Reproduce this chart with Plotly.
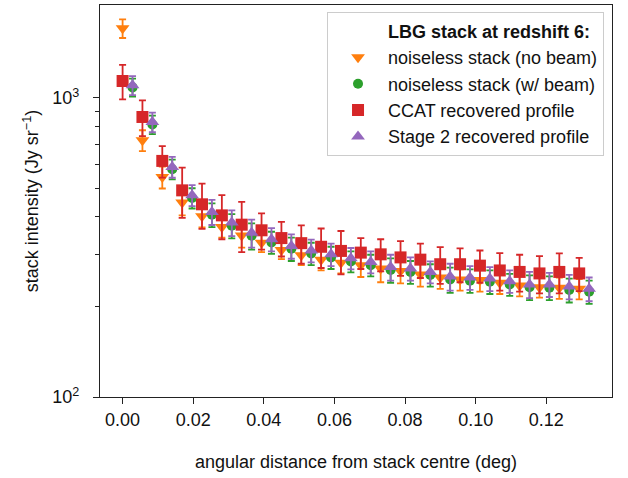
import plotly.graph_objects as go

# Radial bin centres (deg)
radius = [0.0, 0.00562, 0.01124, 0.01687, 0.02249, 0.02811, 0.03373, 0.03935,
          0.04498, 0.05060, 0.05622, 0.06184, 0.06746, 0.07309, 0.07871, 0.08433,
          0.08995, 0.09557, 0.10120, 0.10682, 0.11244, 0.11806, 0.12368, 0.12931]

# Stack profiles (Jy/sr) and 1-sigma errors
noiseless_nobeam = [1710, 722, 544, 447, 402, 370, 347, 328, 310, 298, 288, 281,
                    276, 269, 264, 257, 251, 247, 246, 241, 236, 233, 232, 230]
noiseless_nobeam_err = [123, 58, 46, 42, 33, 29, 31, 23, 21, 22, 23, 22,
                        24, 27, 24, 23, 21, 20, 21, 20, 19, 18, 19, 18]

noiseless_beam = [1085, 815, 578, 463, 407, 374, 346, 329, 313, 302, 293, 284,
                  276, 266, 262, 256, 247, 245, 243, 238, 233, 232, 228, 225]
noiseless_beam_err = [75, 58, 44, 36, 37, 35, 35, 28, 28, 26, 25, 23,
                      23, 25, 23, 22, 24, 22, 22, 20, 22, 21, 21, 20]

ccat = [1140, 864, 616, 491, 441, 405, 377, 361, 340, 327, 318, 308,
        304, 300, 293, 288, 278, 278, 275, 265, 262, 259, 262, 259]
ccat_err = [150, 118, 74, 94, 76, 68, 72, 50, 45, 48, 48, 51,
            36, 37, 39, 38, 39, 36, 34, 38, 37, 37, 40, 33]

stage2 = [1103, 831, 588, 473, 416, 383, 354, 337, 320, 309, 300, 291,
          283, 272, 269, 262, 253, 251, 249, 244, 238, 238, 234, 230]
stage2_err = [80, 63, 47, 38, 40, 38, 38, 30, 30, 27, 26, 24,
              24, 27, 24, 22, 26, 23, 23, 21, 24, 22, 22, 21]

legend_title = "LBG stack at redshift 6:"
labels = ["noiseless stack (no beam)", "noiseless stack (w/ beam)",
          "CCAT recovered profile", "Stage 2 recovered profile"]

# half-bin dodge for the beam-convolved series
dodge = 0.5 * (radius[1] - radius[0])
radius_dodged = [r + dodge for r in radius]

FONT = "Liberation Sans, Arial, Helvetica, sans-serif"
FS = 18

fig = go.Figure()

# invisible entry carrying the legend heading
fig.add_trace(go.Scatter(x=[None], y=[None], mode="markers",
                         marker=dict(size=1, color="rgba(0,0,0,0)"),
                         name="<b>" + legend_title + "</b>"))

series = [
    (radius, noiseless_nobeam, noiseless_nobeam_err, "#ff7f0e", "triangle-down", 12),
    (radius_dodged, noiseless_beam, noiseless_beam_err, "#2ca02c", "circle", 10),
    (radius, ccat, ccat_err, "#d62728", "square", 12),
    (radius_dodged, stage2, stage2_err, "#9467bd", "triangle-up", 12),
]
for (xs, ys, es, col, sym, sz), lab in zip(series, labels):
    fig.add_trace(go.Scatter(
        x=xs, y=ys, mode="markers", name=lab,
        marker=dict(symbol=sym, size=sz, color=col, line=dict(width=0)),
        error_y=dict(type="data", array=es, visible=True, color=col,
                     thickness=1.8, width=3.5),
    ))

axis_common = dict(
    showline=True, linecolor="#222222", linewidth=1.3, mirror=True,
    ticks="outside", ticklen=6, tickwidth=1.2, tickcolor="#222222",
    showgrid=False, zeroline=False,
    tickfont=dict(family=FONT, size=FS, color="#111111"),
)

fig.update_layout(
    width=628, height=478,
    margin=dict(l=100, r=16, t=5, b=81),
    paper_bgcolor="white", plot_bgcolor="white",
    font=dict(family=FONT, size=FS, color="#111111"),
    showlegend=True,
    legend=dict(
        x=0.4434, y=0.983, xanchor="left", yanchor="top",
        bgcolor="rgba(255,255,255,0.85)", bordercolor="#cccccc", borderwidth=1,
        font=dict(family=FONT, size=FS, color="#111111"),
        itemwidth=50,
    ),
    xaxis=dict(
        range=[-0.0064, 0.1386],
        tickvals=[0.0, 0.02, 0.04, 0.06, 0.08, 0.10, 0.12],
        ticktext=["0.00", "0.02", "0.04", "0.06", "0.08", "0.10", "0.12"],
        title=dict(text="angular distance from stack centre (deg)",
                   font=dict(family=FONT, size=FS), standoff=26),
        **axis_common,
    ),
    yaxis=dict(
        type="log", range=[2, 3.311],
        tickvals=[100, 1000],
        ticktext=["10<sup>2</sup>", "10<sup>3</sup>"],
        ticklabelstandoff=10,
        minor=dict(tickvals=[200, 300, 400, 500, 600, 700, 800, 900],
                   ticks="outside", ticklen=3.5, tickwidth=1.0, tickcolor="#222222"),
        title=dict(text="stack intensity (Jy sr<sup>\u22121</sup>)",
                   font=dict(family=FONT, size=FS), standoff=8),
        **axis_common,
    ),
)

fig.write_html("out.html")
